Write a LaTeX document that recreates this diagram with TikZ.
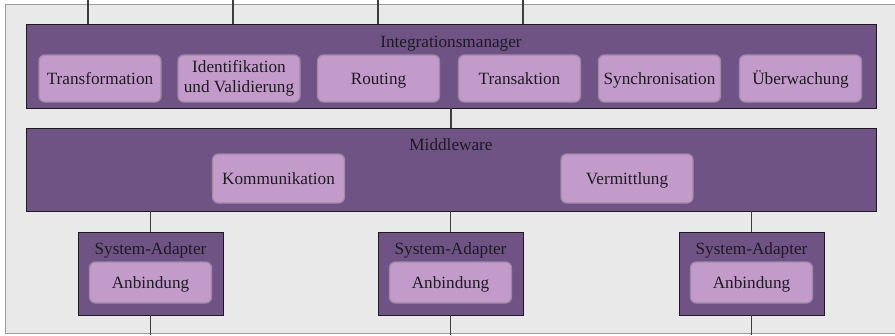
\documentclass[tikz,border=0pt]{standalone}
\usepackage{fontspec}
\setmainfont{Liberation Serif}
\definecolor{frame}{HTML}{E9E9E9}
\definecolor{frameline}{HTML}{9C9C9C}
\definecolor{darkpurple}{HTML}{6F5385}
\definecolor{lightpurple}{HTML}{C29BCA}
\definecolor{softedge}{HTML}{9E8AA6}
\definecolor{ink}{HTML}{1E1A22}
\begin{document}
\begin{tikzpicture}[x=1pt,y=-1pt,
  every node/.style={font=\fontsize{17.2pt}{20pt}\selectfont, text=ink},
  container/.style={draw=ink, line width=0.9pt, fill=darkpurple, inner sep=0pt},
  modulebox/.style={draw=softedge, line width=1.3pt, fill=lightpurple, rounded corners=6pt, inner sep=0pt, align=center},
  module/.style={modulebox, text height=11.5pt, text depth=0pt},
  caption/.style={inner sep=0pt, text height=11.5pt, text depth=0pt},
  link/.style={draw=ink!85, line width=1.1pt}]
\useasboundingbox (0,0) rectangle (895,335);
% backdrop
\fill[white] (0,0) rectangle (895,335);
\fill[frame] (5,4) rectangle (895,333);
\draw[frameline, line width=0.8pt] (895,4) -- (5,4) -- (5,333) -- (895,333);

% Integrationsmanager
\node[container, minimum width=850pt, minimum height=84pt] (im) at (451,66) {};
\node[caption] (imt) at (451,41.7) {Integrationsmanager};
\node[module, minimum width=122pt, minimum height=47pt] (m1) at (100,78.5) {Transformation};
\node[modulebox, minimum width=122pt, minimum height=47pt] (m2) at (239,78.5) {Identifikation\\und Validierung};
\node[module, minimum width=122pt, minimum height=47pt] (m3) at (378.5,78.5) {Routing};
\node[module, minimum width=122pt, minimum height=47pt] (m4) at (519.5,78.5) {Transaktion};
\node[module, minimum width=122pt, minimum height=47pt] (m5) at (659.5,78.5) {Synchronisation};
\node[module, minimum width=122pt, minimum height=47pt] (m6) at (800.5,78.5) {Überwachung};

% Middleware
\node[container, minimum width=850pt, minimum height=83pt] (mw) at (451,169.5) {};
\node[caption] (mwt) at (451,145) {Middleware};
\node[module, minimum width=132pt, minimum height=49pt] (k1) at (278.5,178.5) {Kommunikation};
\node[module, minimum width=132pt, minimum height=49pt] (k2) at (627,178.5) {Vermittlung};

% System-Adapter
\foreach \i/\x in {1/150.5, 2/450.5, 3/751.5}{
  \node[container, minimum width=145pt, minimum height=83pt] (sa\i) at (\x,273.5) {};
  \node[caption] (sat\i) at (\x,249) {System-Adapter};
  \node[module, minimum width=122pt, minimum height=41pt] (an\i) at (\x,282.5) {Anbindung};
}

% connectors
\coordinate (t1) at (88,0);
\coordinate (t2) at (233,0);
\coordinate (t3) at (378,0);
\coordinate (t4) at (523,0);
\foreach \t in {t1,t2,t3,t4}{\draw[link] (\t) -- (\t |- im.north);}
\draw[link] (im.south) -- (mw.north);
\foreach \i in {1,2,3}{
  \draw[link] (sa\i.north |- mw.south) -- (sa\i.north);
  \coordinate (b\i) at (sa\i.south |- 0,335);
  \draw[link] (sa\i.south) -- (b\i);
}
\end{tikzpicture}
\end{document}
